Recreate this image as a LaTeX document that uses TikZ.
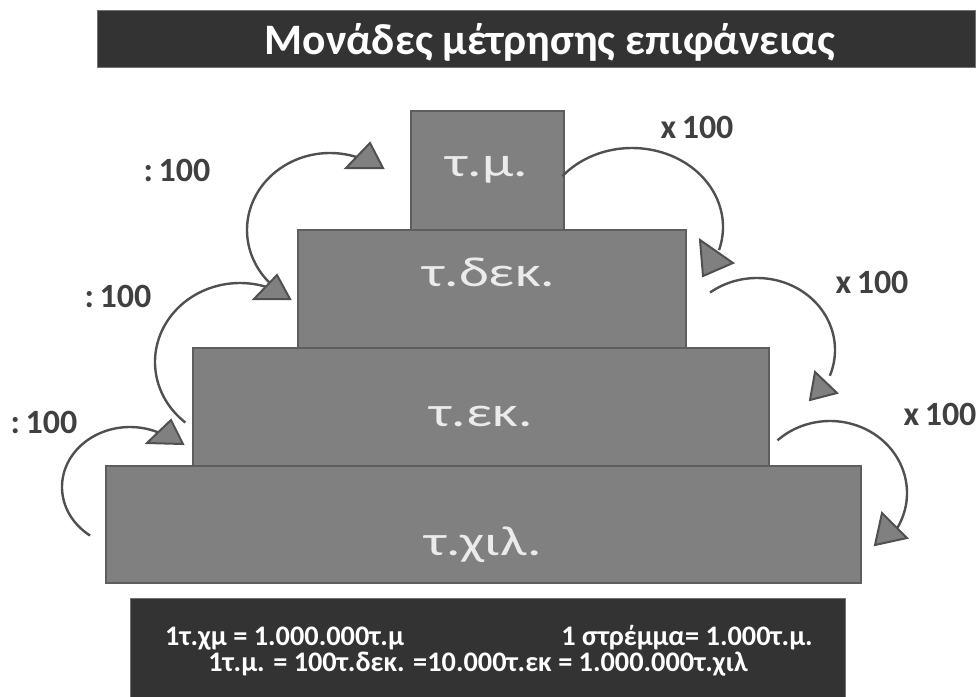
\documentclass[tikz,border=0pt]{standalone}
\usepackage{fontspec}
\setmainfont{Carlito}
\definecolor{barbg}{HTML}{333333}
\definecolor{boxfill}{HTML}{808080}
\definecolor{boxline}{HTML}{5E5E5E}
\definecolor{arcline}{HTML}{505050}
\definecolor{labtxt}{HTML}{404040}
\tikzset{
  stepbox/.style={draw=boxline, line width=2pt, fill=boxfill, inner sep=0pt},
  steplabel/.style={text=white!92!black, font=\fontsize{42}{44}\selectfont, inner sep=0pt, anchor=base, xscale=1.36},
  oplabel/.style={text=labtxt, font=\bfseries\fontsize{34}{36}\selectfont, inner sep=0pt, anchor=base},
  arcpath/.style={draw=arcline, line width=2.4pt},
  headtri/.style={draw=arcline, line width=2pt, fill=boxfill, line join=miter},
  darkbar/.style={fill=barbg, draw=black!55, line width=1pt, inner sep=0pt},
  infotext/.style={text=white, font=\bfseries\fontsize{28.3}{30}\selectfont, inner sep=0pt}
}
\begin{document}
\begin{tikzpicture}[x=1pt,y=-1pt]
\useasboundingbox (0,0) rectangle (979,696);
% title
\node[darkbar, minimum width=878pt, minimum height=57pt, anchor=north west] (title) at (97,10) {};
\node[text=white, font=\bfseries\fontsize{43.5}{45}\selectfont, inner sep=0pt, anchor=base] (titletxt) at (550,54) {Μονάδες μέτρησης επιφάνειας};
% steps
\node[stepbox, minimum width=755pt, minimum height=117pt, anchor=north west] (chil) at (105,465) {};
\node[stepbox, minimum width=576pt, minimum height=118pt, anchor=north west] (ek) at (192,347) {};
\node[stepbox, minimum width=388pt, minimum height=118pt, anchor=north west] (dek) at (297,229) {};
\node[stepbox, minimum width=153pt, minimum height=119pt, anchor=north west] (tm) at (410,110) {};
\node[steplabel] (tml) at (487,176) {τ.μ.};
\node[steplabel] (dekl) at (489,286) {τ.δεκ.};
\node[steplabel] (ekl) at (481,426) {τ.εκ.};
\node[steplabel] (chill) at (483,555) {τ.χιλ.};
% operation labels
\node[oplabel] (d1) at (177,181) {:\,100};
\node[oplabel] (d2) at (118,307) {:\,100};
\node[oplabel] (d3) at (44,433) {:\,100};
\node[oplabel] (m1) at (697,138) {x\,100};
\node[oplabel] (m2) at (872,293) {x\,100};
\node[oplabel] (m3) at (940,425) {x\,100};
% curved arrows (left, upward)
\draw[arcpath] plot[domain=136:289, samples=60] ({330+83*cos(\x)},{230+77*sin(\x)});
\draw[arcpath] plot[domain=130:289, samples=60] ({240+85*cos(\x)},{362+79*sin(\x)});
\draw[arcpath] plot[domain=126:296, samples=60] ({130+68*cos(\x)},{487+60*sin(\x)});
% curved arrows (right, downward)
\draw[arcpath] plot[domain=-140:17, samples=60] ({632+91*cos(\x)},{227+79*sin(\x)});
\draw[arcpath] plot[domain=-127:21, samples=60] ({757+78*cos(\x)},{350+72*sin(\x)});
\draw[arcpath] plot[domain=-133:29, samples=60] ({830+77*cos(\x)},{493+72*sin(\x)});
% arrow heads
\draw[headtri] (346,168) -- (370,143) -- (383,168) -- cycle;
\draw[headtri] (254,299) -- (277,275) -- (290,299) -- cycle;
\draw[headtri] (147,443) -- (171,420) -- (183,444) -- cycle;
\draw[headtri] (700,240) -- (733,263) -- (703,276) -- cycle;
\draw[headtri] (815,372) -- (837,393) -- (810,400) -- cycle;
\draw[headtri] (882,513) -- (907,538) -- (875,545) -- cycle;
% bottom box
\node[darkbar, minimum width=715pt, minimum height=100pt, anchor=north west] (info) at (130,598) {};
\node[infotext, anchor=base west] (l1a) at (165,645) {1τ.χμ = 1.000.000τ.μ};
\node[infotext, anchor=base east] (l1b) at (813,645) {1 στρέμμα= 1.000τ.μ.};
\node[infotext, anchor=base] (l2) at (478,671) {1τ.μ. = 100τ.δεκ. =10.000τ.εκ = 1.000.000τ.χιλ};
\end{tikzpicture}
\end{document}
